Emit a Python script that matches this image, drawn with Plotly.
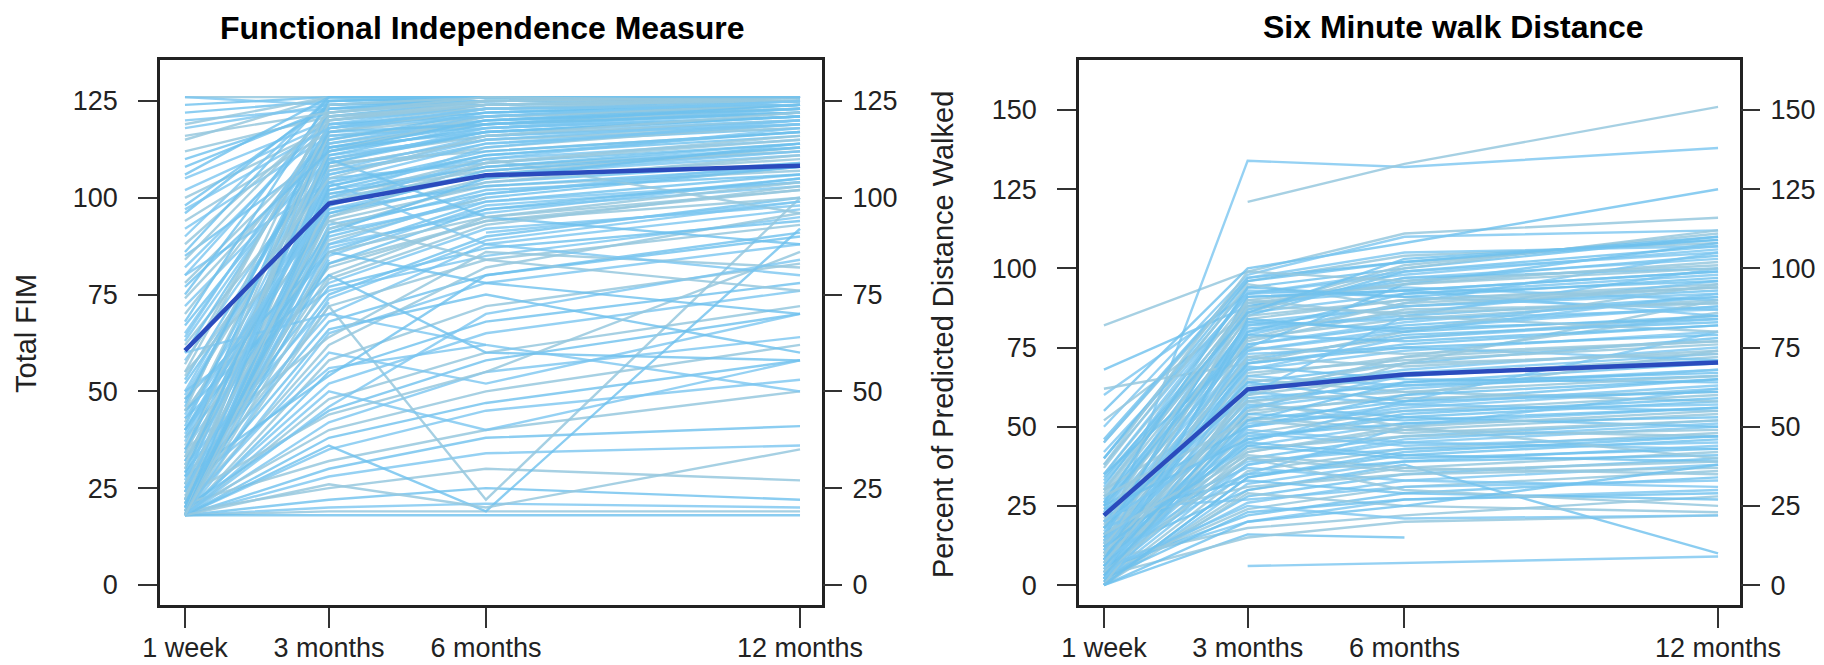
import plotly.graph_objects as go

W, H = 1824, 665

# ---------------- data ----------------
TIMEPOINTS = [0.25, 3, 6, 12]
TIME_LABELS = ["1 week", "3 months", "6 months", "12 months"]

FIM_TICKS = [0, 25, 50, 75, 100, 125]
SMW_TICKS = [0, 25, 50, 75, 100, 125, 150]

# Functional Independence Measure, individual trajectories (one value per patient)
FIM_1WK = [126, 122, 118, 115, 110, 105, 100, 96, 92, 88,
           85, 82, 78, 75, 72, 70, 67, 64, 62, 60,
           58, 55, 52, 50, 48, 46, 44, 42, 40, 38,
           36, 34, 32, 30, 28, 26, 24, 22, 20, 19,
           124, 120, 112, 98, 90, 18, 20, 22, 24, 26,
           28, 30, 32, 35, 38, 40, 43, 45, 48, 50,
           18, 19, 21, 23, 25, 18, 20, 22, 27, 33,
           18, 19, 24, 29, 31, 18, 18, 19, 18, 20,
           18, 19, 18, 18, 21, 18, 18, 19, 18, 18,
           18, 18, 20, 18, 22, 18, 23, 18, 25, 18,
           45, 60, 35, 28, 18, None, None, 80, 55, 40,
           126, 119, 108, 102, 94, 86, 80, 74, 68, 63,
           57, 53, 49, 45, 41, 37, 33, 29, 25, 21,
           18, 18, 19, 20, 18, 22, 18, 27, 31, 18,
           24, 18, 35, 18, 26, 18, 39, 18, 21, 18,
           116, 106, 97, 84, 77, 65, 54, 47, 43, 18]
FIM_3MO = [126, 125, 124, 126, 122, 120, 118, 125, 116, 121,
           112, 119, 115, 124, 110, 117, 113, 120, 108, 118,
           111, 122, 106, 114, 109, 119, 104, 116, 103, 112,
           107, 123, 102, 110, 105, 118, 101, 113, 100, 108,
           126, 123, 121, 124, 126, 95, 90, 85, 80, 75,
           70, 98, 92, 88, 82, 96, 78, 94, 86, 76,
           99, 93, 87, 72, 68, 65, 62, 84, None, 89,
           97, 91, 83, 77, 73, 58, 55, 52, 48, 45,
           42, 40, 38, 35, 32, 30, 28, 25, 22, 20,
           19, 18, 60, 72, 66, 50, 44, 36, 56, 26,
           80, 70, 64, 54, 46, 100, 110, 104, 94, 86,
           124, 126, 123, 119, 117, 126, 121, 114, 125, 116,
           121, 113, 110, 124, 115, 109, 120, 111, 106, 117,
           103, 114, 99, 109, 104, 120, 96, 107, 112, 101,
           97, 92, 102, 88, 95, 83, 100, 79, 91, 74,
           122, 126, 118, 122, 112, 118, 105, 117, 98, 86]
FIM_6MO = [126, 126, 126, 124, 125, 123, 124, 126, 120, 125,
           118, 122, 121, 126, 117, 123, 119, 124, 115, 122,
           116, 126, 114, 120, 112, 121, 110, 119, 111, 118,
           113, 125, 108, 116, 109, 123, 107, 117, 106, 115,
           126, 124, 123, 125, 126, 105, 100, 98, 95, 90,
           88, 108, 102, 96, 94, 104, 92, 103, 99, 85,
           106, 101, 97, 84, 80, 78, 82, None, 91, 100,
           103, 99, 94, 87, None, 72, 68, 65, 60, 58,
           55, 50, 47, 45, 40, 38, 34, 30, 25, 21,
           19, 18, 52, 22, 75, 40, 55, 19, 62, 20,
           60, 62, 86, 80, 70, 110, 95, 88, 84, 78,
           125, 126, 126, 124, 121, 126, 125, 119, 126, 118,
           124, 120, 117, 126, 122, 118, 125, 119, 115, 123,
           112, 121, 109, 117, 114, 124, 107, 116, 121, 108,
           106, 104, 111, 101, 109, 97, 113, 93, 105, 89,
           125, 126, 123, 126, 120, 121, 116, 119, 110, 95]
FIM_12MO = [126, 126, 125, 126, 126, 124, 126, 126, 122, 126,
            121, 125, 124, 126, 120, 125, 122, 126, 119, 124,
            120, 126, 118, 123, 117, 124, 115, 122, 116, 121,
            119, 126, 113, 120, 114, 125, 112, 121, 111, 118,
            126, 125, 124, 126, 126, 110, 108, 104, 102, 100,
            97, 112, 106, 105, 100, 109, 98, 107, 106, 95,
            113, 108, 103, 93, 91, 88, 96, 101, 99, None,
            108, 104, 102, 94, 90, 83, 78, 76, 72, 70,
            64, 62, 58, 53, 50, 41, 36, 27, 22, 20,
            19, 18, 70, 100, 60, 58, 86, 92, None, 35,
            58, 50, 82, 90, 84, 96, 88, 80, 76, 70,
            126, 125, 126, 125, 123, 126, 126, 123, 126, 122,
            125, 124, 121, 126, 124, 123, 126, 122, 120, 126,
            117, 125, 115, 121, 119, 126, 113, 119, 124, 114,
            112, 111, 117, 109, 116, 105, 120, 103, 114, 99,
            126, 126, 124, 125, 123, 125, 122, 124, 118, 104]
FIM_MEAN = [60.5, 98.5, 105.8, 108.3]

# Six minute walk distance, percent of predicted, individual trajectories
SMW_1WK = [82, 68, 13, None, 55, 50, 45, 40, 38, 35,
           33, 30, 28, 26, 25, 24, 22, 20, 19, 18,
           17, 16, 15, 14, 13, 12, 11, 10, 9, 8,
           7, 6, 5, 4, 3, 2, 1, 0, 0, 1,
           2, 3, 4, 5, 6, 8, 0, None, 3, 10,
           60, 52, 46, 42, 37, 34, 31, 29, 27, 23,
           21, 18, 16, 14, 12, 11, 9, 7, 6, 5,
           4, 3, 2, 1, 0, 2, 4, 6, 8, 10,
           12, 14, 16, 18, 20, 22, 24, 0, 2, 5,
           30, 25, 15, 62, 35, 20, 10, 0, 8, 12,
           40, 35, 30, 26, 22, 18, 15, 12, 10, 8,
           6, 4, 2, 0, 20, 25, 16, 12, 8, 4,
           0, 18, 14, 10, 6, 2, 28, 24, 20, 16,
           12, 8, 4, 0, 45, 38, 32, 11, 7, 3]
SMW_3MO = [99, 88, 134, 121, 100, 98, 96, 94, 92, 90,
           88, 86, 84, 82, 80, 78, 76, 74, 72, 70,
           68, 66, 64, 62, 60, 58, 56, 54, 52, 50,
           48, 46, 44, 42, 40, 38, 36, 34, 32, 30,
           28, 26, 24, 22, 20, 18, 16, 6, 15, 30,
           92, 86, 97, 91, 95, 85, 93, 87, 81, 89,
           77, 83, 79, 75, 71, 73, 67, 69, 63, 65,
           59, 61, 55, 57, 51, 53, 47, 49, 43, 45,
           39, 41, 35, 37, 31, 33, 27, 29, 23, 25,
           58, 50, 45, 70, 75, 60, 40, 20, 35, 55,
           96, 92, 89, 94, 87, 85, 91, 83, 88, 80,
           82, 78, 84, 76, 90, 79, 74, 72, 70, 66,
           62, 64, 56, 58, 54, 50, 52, 46, 48, 42,
           44, 38, 40, 34, 97, 99, 86, 68, 60, 52]
SMW_6MO = [111, 96, 132, 133, 108, 110, 104, 100, 98, 95,
           97, 92, 90, 88, 86, 84, 82, 80, 78, 76,
           74, 72, 70, 68, 66, 64, 62, 60, 58, 56,
           55, 53, 51, 49, 47, 45, 43, 41, 39, 37,
           35, 33, 31, 29, 27, 22, 15, 7, 20, 38,
           94, 100, 102, 93, 88, 99, 91, 101, 85, 93,
           87, 81, 89, 73, 79, 75, 71, 65, 67, 61,
           63, 57, 59, 53, 55, 49, 51, 45, 47, 41,
           43, 37, 39, 33, 35, 29, 31, 25, 27, 21,
           50, 60, 58, 80, 95, 85, 30, 25, 50, 70,
           102, 99, 95, 91, 97, 90, 93, 88, 86, 92,
           84, 89, 80, 83, 85, 77, 81, 69, 75, 63,
           70, 58, 66, 61, 52, 57, 48, 54, 44, 50,
           40, 46, 36, 42, 105, 96, 103, 78, 72, 64]
SMW_12MO = [116, 104, 138, 151, 125, 112, 108, 110, 106, 102,
            100, 98, 95, 93, 96, 90, 88, 92, 85, 82,
            80, 86, 78, 75, 72, 70, 68, 74, 65, 62,
            60, 58, 56, 54, 52, 50, 48, 46, 44, 42,
            40, 38, 36, 34, 30, 28, None, 9, 22, 10,
            90, 112, 109, 85, 94, 107, 87, 111, 91, 99,
            89, 84, 105, 77, 83, 71, 76, 64, 73, 58,
            66, 55, 61, 50, 57, 47, 53, 43, 49, 39,
            45, 35, 41, 31, 37, 27, 33, 23, 29, 22,
            40, 65, 80, 95, 108, 100, 25, 38, 62, 90,
            110, 105, 100, 97, 103, 94, 99, 92, 89, 96,
            87, 94, 85, 91, 80, 82, 88, 74, 79, 68,
            73, 61, 71, 66, 56, 63, 52, 59, 47, 55,
            43, 51, 39, 47, 107, 101, 109, 84, 77, 67]
SMW_MEAN = [22.0, 61.8, 66.5, 70.3]

# ---------------- styling ----------------
FONT = "Liberation Sans, Arial, Helvetica, sans-serif"
LIGHT = ["rgba(150,200,222,0.85)", "rgba(110,192,238,0.8)", "rgba(122,198,240,0.8)"]
MEAN_COLOR = "#2a4bbd"
TEXT_COLOR = "#222222"

fig = go.Figure()


def add_panel(w1, m3, m6, m12, mean, xa, ya, ya_right):
    for i, vals in enumerate(zip(w1, m3, m6, m12)):
        fig.add_trace(go.Scatter(
            x=TIMEPOINTS, y=list(vals), mode="lines",
            line=dict(color=LIGHT[i % 3], width=2.4),
            xaxis=xa, yaxis=ya, hoverinfo="skip", showlegend=False,
            connectgaps=False))
    # mean drawn on the right-hand (overlaying, identical-range) axis
    fig.add_trace(go.Scatter(
        x=TIMEPOINTS, y=mean, mode="lines",
        line=dict(color=MEAN_COLOR, width=4.5),
        xaxis=xa, yaxis=ya_right, hoverinfo="skip", showlegend=False))


add_panel(FIM_1WK, FIM_3MO, FIM_6MO, FIM_12MO, FIM_MEAN, "x", "y", "y3")
add_panel(SMW_1WK, SMW_3MO, SMW_6MO, SMW_12MO, SMW_MEAN, "x2", "y2", "y4")

tickfont = dict(family=FONT, size=27, color=TEXT_COLOR)
ydom = [1 - 597 / H, 1 - 52 / H]


def xaxis(dom, anchor):
    return dict(domain=dom, range=[-0.227, 12.42], tickvals=TIMEPOINTS, anchor=anchor,
                ticktext=TIME_LABELS, ticks="outside", ticklen=20, tickwidth=1.5,
                tickcolor="#333", showline=True, linecolor="#222", linewidth=2.5,
                mirror=True, showgrid=False, zeroline=False, tickfont=tickfont,
                ticklabelstandoff=-3, automargin=False, fixedrange=True)


def yaxis(rng, ticks, anchor, side="left", overlay=None):
    d = dict(range=rng, tickvals=ticks, ticks="outside", ticklen=19, tickwidth=1.5,
             tickcolor="#333", showgrid=False, zeroline=False, tickfont=tickfont,
             anchor=anchor, side=side, automargin=False, fixedrange=True)
    if overlay is None:
        d.update(domain=ydom, showline=True, linecolor="#222", linewidth=2.5, mirror=True,
                 ticklabelstandoff=15)
    else:
        d.update(overlaying=overlay, showline=False, ticklabelstandoff=5)
    return d


fim_rng = [-5.2, 135.6]
smw_rng = [-6.3, 165.8]

fig.update_layout(
    template="none",
    width=W, height=H,
    margin=dict(l=0, r=0, t=0, b=0, pad=0),
    paper_bgcolor="white", plot_bgcolor="white",
    font=dict(family=FONT, color=TEXT_COLOR),
    xaxis=xaxis([152 / W, 814 / W], "y"),
    xaxis2=xaxis([1071 / W, 1732 / W], "y2"),
    yaxis=yaxis(fim_rng, FIM_TICKS, "x"),
    yaxis2=yaxis(smw_rng, SMW_TICKS, "x2"),
    yaxis3=yaxis(fim_rng, FIM_TICKS, "x", side="right", overlay="y"),
    yaxis4=yaxis(smw_rng, SMW_TICKS, "x2", side="right", overlay="y2"),
    annotations=[
        dict(text="<b>Functional Independence Measure</b>", x=474.5 / W, y=1 - 20 / H,
             xref="paper", yref="paper", showarrow=False, xanchor="center", yanchor="middle",
             font=dict(family=FONT, size=32, color="black")),
        dict(text="<b>Six Minute walk Distance</b>", x=1445 / W, y=1, borderpad=0,
             xref="paper", yref="paper", showarrow=False, xanchor="center", yanchor="top",
             font=dict(family=FONT, size=32, color="black")),
        dict(text="Total FIM", x=18 / W, y=1 - 326 / H, textangle=-90,
             xref="paper", yref="paper", showarrow=False, xanchor="center", yanchor="middle",
             font=dict(family=FONT, size=29, color=TEXT_COLOR)),
        dict(text="Percent of Predicted Distance Walked", x=935 / W, y=1 - 327 / H, textangle=-90,
             xref="paper", yref="paper", showarrow=False, xanchor="center", yanchor="middle",
             font=dict(family=FONT, size=29, color=TEXT_COLOR)),
    ],
)

fig.write_html("out.html")
